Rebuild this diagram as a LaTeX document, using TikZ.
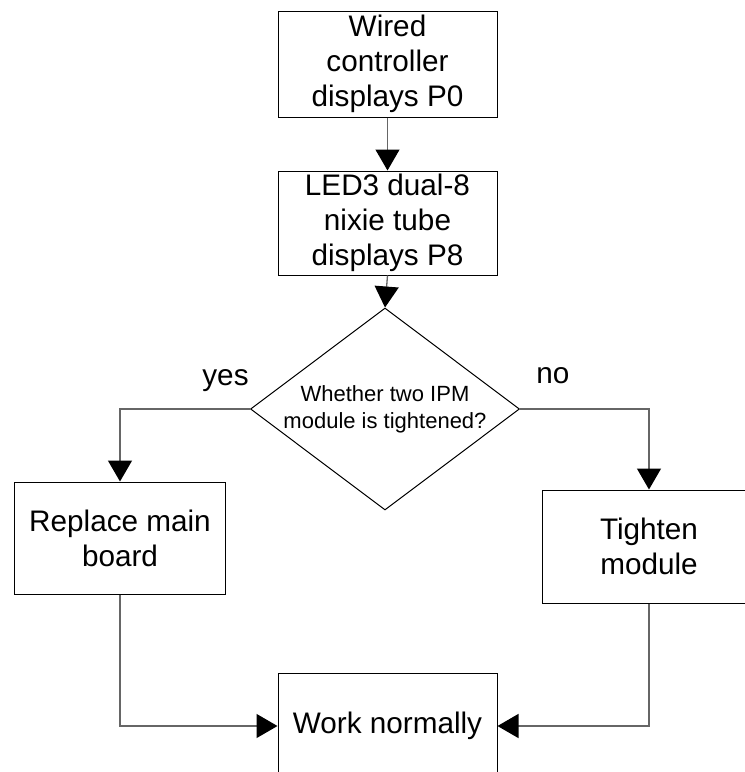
\documentclass[tikz,border=0pt]{standalone}
\usepackage{fontspec}
\setmainfont{Liberation Sans}
\usetikzlibrary{shapes.geometric,arrows.meta}
\begin{document}
\begin{tikzpicture}[x=1pt,y=-1pt,
  box/.style={draw=black, line width=1pt, rectangle, align=center, inner sep=0pt,
    font=\fontsize{29.7}{35}\selectfont},
  decbox/.style={draw=black, line width=1pt, diamond, inner sep=0pt},
  conn/.style={draw=black!60, line width=1.3pt, -{Triangle[length=21pt,width=24pt,color=black]}},
  lbl/.style={font=\fontsize{29.7}{35}\selectfont, inner sep=0pt, anchor=base}]
\useasboundingbox (0,0) rectangle (745,772);
\clip (0,0) rectangle (745,772);
\node[box, minimum width=219pt, minimum height=106pt] (top) at (387.5,64) {Wired\\controller\\displays P0};
\node[box, minimum width=219pt, minimum height=104pt] (led) at (387.5,223) {LED3 dual-8\\nixie tube\\displays P8};
\node[decbox, minimum width=269pt, minimum height=202pt] (dec) at (385,409) {};
\node[align=center, inner sep=0pt, font=\fontsize{22}{27}\selectfont] (dectext) at (dec.center) {Whether two IPM\\module is tightened?};
\node[box, minimum width=211pt, minimum height=112pt] (left) at (120,538) {Replace main\\board};
\node[box, minimum width=214pt, minimum height=113pt] (right) at (649,546.5) {Tighten\\module};
\node[box, minimum width=219pt, minimum height=106pt] (bot) at (387.5,726) {Work normally};
\node[lbl] (yes) at (225.5,385) {yes};
\node[lbl] (no) at (553,383) {no};
\draw[conn] (top.south) -- (led.north);
\draw[conn] (led.south) -- (dec.north);
\draw[conn] (dec.west) -| (left.north);
\draw[conn] (dec.east) -| (right.north);
\draw[conn] (left.south) |- (bot.west);
\draw[conn] (right.south) |- (bot.east);
\end{tikzpicture}
\end{document}
